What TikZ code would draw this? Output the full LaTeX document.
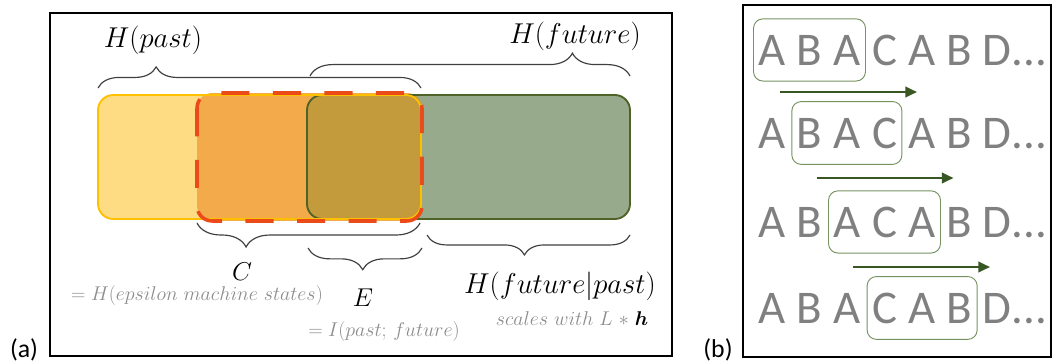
\RequirePackage{fix-cm}
\documentclass[tikz,border=0pt]{standalone}
\usepackage{bm}
\usepackage{fontspec}
\newfontfamily\carlito{Carlito}
\usepackage{tikz}
\usetikzlibrary{positioning, calc, fit, arrows.meta, decorations.pathreplacing}

\definecolor{pastfill}{RGB}{253,220,132}
\definecolor{pastline}{RGB}{255,192,0}
\definecolor{futfill}{RGB}{152,170,140}
\definecolor{futline}{RGB}{79,98,40}
\definecolor{cfill}{RGB}{242,170,75}
\definecolor{overfill}{RGB}{196,155,60}
\definecolor{cline}{RGB}{235,75,25}
\definecolor{bracegray}{RGB}{64,64,64}
\definecolor{notegray}{RGB}{140,140,140}
\definecolor{lettergray}{RGB}{128,128,128}
\definecolor{winline}{RGB}{118,146,96}
\definecolor{slidegreen}{RGB}{56,87,35}

\begin{document}
\begin{tikzpicture}[x=0.03cm, y=-0.03cm,
    frame/.style={draw=black, line width=1.2pt},
    brc/.style={draw=bracegray, line width=1pt, decorate},
    bigmath/.style={font=\fontsize{24.5}{28}\selectfont, inner sep=0pt},
    symb/.style={font=\fontsize{22}{26}\selectfont, inner sep=0pt},
    note/.style={text=notegray, font=\fontsize{17}{20}\selectfont, inner sep=0pt},
    letter/.style={text=lettergray, font=\carlito\fontsize{40}{40}\selectfont, inner sep=0pt, anchor=base},
    win/.style={draw=winline, line width=0.8pt, rounded corners=8pt, inner xsep=4pt, inner ysep=13.5pt},
    slide/.style={draw=slidegreen, line width=2pt, -{Triangle[length=10pt, width=9pt]}},
    tag/.style={font=\carlito\fontsize{22}{26}\selectfont, inner sep=0pt}]

    \useasboundingbox (0,0) rectangle (1053,364);

    % (a) entropy picture
    \draw[frame] (50,13) rectangle (672,356);
    \node[tag] (taga) at (24,350) {(a)};

    \fill[pastfill, rounded corners=13pt] (98,95) rectangle (421,219);
    \fill[futfill, rounded corners=13pt] (307,95) rectangle (630,219);
    \begin{scope}
        \clip[rounded corners=13pt] (197,93) rectangle (422,221);
        \fill[cfill] (197,93) rectangle (422,221);
        \fill[overfill, rounded corners=13pt] (307,95) rectangle (630,219);
    \end{scope}
    \draw[futline, line width=1.6pt, rounded corners=13pt] (307,95) rectangle (630,219);
    \draw[pastline, line width=1.6pt, rounded corners=13pt] (98,95) rectangle (421,219);
    \draw[cline, line width=3pt, dash pattern=on 24pt off 20pt, rounded corners=13pt]
        (197,93) rectangle (422,221);

    % braces on top
    \draw[brc, decoration={brace, amplitude=18pt, aspect=0.18}] (98,88) -- (421,88);
    \draw[brc, decoration={brace, amplitude=19.5pt, aspect=0.82}] (310,76) -- (630,76);
    \node[bigmath] (hpast) at (153,40) {$H(past)$};
    \node[bigmath] (hfut) at (575,36) {$H(future)$};

    % braces below
    \draw[brc, decoration={brace, mirror, amplitude=20.5pt, aspect=0.22}] (197,223) -- (420,223);
    \draw[brc, decoration={brace, mirror, amplitude=18.5pt, aspect=0.48}] (308,248) -- (422,248);
    \draw[brc, decoration={brace, mirror, amplitude=17pt, aspect=0.48}] (427,235) -- (630,235);

    \node[symb] (cmu) at (242,272) {$C$};
    \node[note] (cnote) at (197,296) {$= H(epsilon\ machine\ states)$};
    \node[symb] (emi) at (363,298) {$E$};
    \node[note] (enote) at (384,332) {$= I(past;\,future)$};
    \node[bigmath] (hcond) at (560,286) {$H(future|past)$};
    \node[note] (hnote) at (572,319) {$scales\ with\ L\ {*}\ {\color{black}\bm{h}}$};

    % (b) sliding window
    \draw[frame] (743,5) rectangle (1051,357);
    \node[tag] (tagb) at (718,350) {(b)};

    \foreach \row/\yb in {1/65, 2/148, 3/237, 4/323} {
        \foreach \ch [count=\i] in {A,B,A,C,A,B,D} {
            \node[letter] (l\row-\i) at ({772+37.5*(\i-1)},\yb) {\ch};
        }
        \node[letter, anchor=base west] (dots\row) at (l\row-7.base east) {...};
        \pgfmathtruncatemacro{\last}{\row+2}
        \node[win, fit=(l\row-\row)(l\row-\last)] (win\row) {};
    }

    \foreach \k/\y in {1/92, 2/178, 3/267} {
        \coordinate (s\k) at ({780+36.5*(\k-1)},\y);
        \coordinate (e\k) at ({917+36.5*(\k-1)},\y);
        \draw[slide] (s\k) -- (e\k);
    }

\end{tikzpicture}
\end{document}
